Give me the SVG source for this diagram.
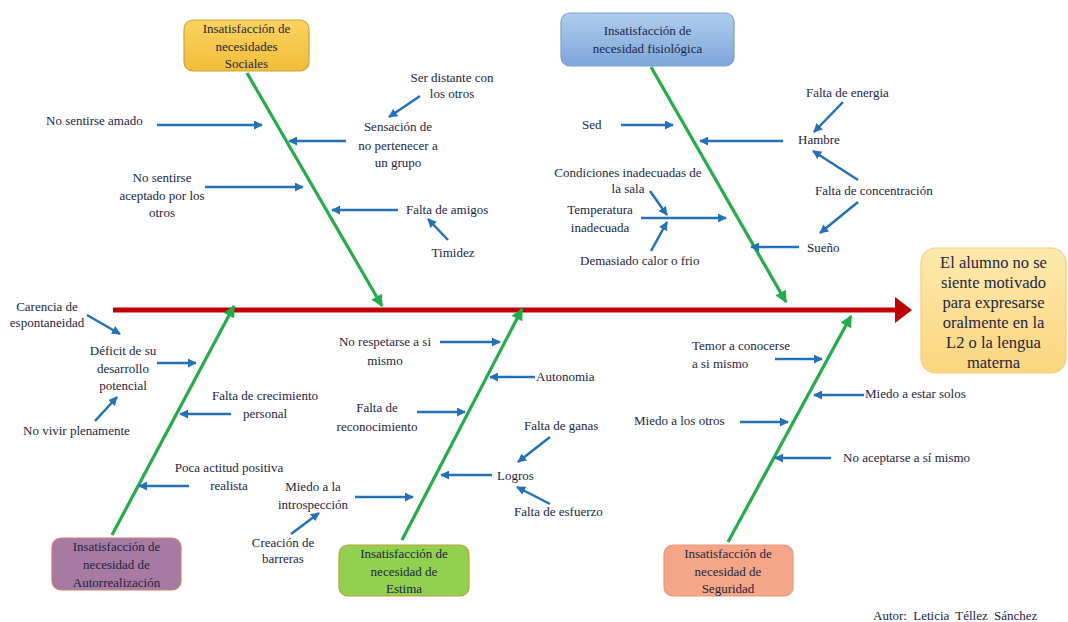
<svg xmlns="http://www.w3.org/2000/svg" width="1068" height="622" viewBox="0 0 1068 622">
<style>
text{font-family:"Liberation Serif","Times New Roman",serif;fill:#1c2541;font-size:13px}
.m{text-anchor:middle}
.big{font-size:16.5px}
.blue{stroke:#2471b8;stroke-width:2.5;fill:none;marker-end:url(#ab)}
.green{stroke:#22ac4c;stroke-width:3.2;fill:none;marker-end:url(#ag)}
</style>
<defs>
<marker id="ab" viewBox="0 0 10 10" refX="9" refY="5" markerWidth="9" markerHeight="9" markerUnits="userSpaceOnUse" orient="auto"><path d="M0,0 L10,5 L0,10 z" fill="#2471b8"/></marker>
<marker id="ag" viewBox="0 0 10 10" refX="9" refY="5" markerWidth="14" markerHeight="12" markerUnits="userSpaceOnUse" orient="auto"><path d="M0,0 L10,5 L0,10 z" fill="#22ac4c"/></marker>
<linearGradient id="gGold" x1="0" y1="0" x2="0" y2="1"><stop offset="0" stop-color="#fad35e"/><stop offset="1" stop-color="#f1bd3a"/></linearGradient>
<linearGradient id="gBlue" x1="0" y1="0" x2="0" y2="1"><stop offset="0" stop-color="#b0cdec"/><stop offset="1" stop-color="#7da6db"/></linearGradient>
<linearGradient id="gMain" x1="0" y1="0" x2="0" y2="1"><stop offset="0" stop-color="#fde9ac"/><stop offset="1" stop-color="#fbd57e"/></linearGradient>
</defs>
<rect width="1068" height="622" fill="#ffffff"/>

<g id="connectors">
<line x1="113" y1="310" x2="897" y2="310" stroke="#c00000" stroke-width="5"/>
<polygon points="895,297 912,310 895,323" fill="#c00000"/>
<line class="green" x1="247" y1="73" x2="382" y2="306"/>
<line class="green" x1="651" y1="67" x2="786" y2="302"/>
<line class="green" x1="112" y1="535" x2="234" y2="306"/>
<line class="green" x1="402" y1="540" x2="522" y2="309"/>
<line class="green" x1="728" y1="542" x2="851" y2="316"/>
<line class="blue" x1="157" y1="125" x2="262" y2="125"/>
<line class="blue" x1="346" y1="141" x2="289" y2="141"/>
<line class="blue" x1="420" y1="96" x2="389" y2="117"/>
<line class="blue" x1="205" y1="187" x2="303" y2="187"/>
<line class="blue" x1="398" y1="210" x2="332" y2="210"/>
<line class="blue" x1="448" y1="240" x2="428" y2="219"/>
<line class="blue" x1="621" y1="125" x2="673" y2="125"/>
<line class="blue" x1="783" y1="141" x2="700" y2="141"/>
<line class="blue" x1="843" y1="102" x2="814" y2="132"/>
<line class="blue" x1="858" y1="180" x2="813" y2="151"/>
<line class="blue" x1="858" y1="202" x2="820" y2="233"/>
<line class="blue" x1="799" y1="247" x2="751" y2="247"/>
<line class="blue" x1="650" y1="191" x2="667" y2="215"/>
<line class="blue" x1="641" y1="218" x2="726" y2="218"/>
<line class="blue" x1="651" y1="251" x2="667" y2="222"/>
<line class="blue" x1="87" y1="315" x2="120" y2="334"/>
<line class="blue" x1="157" y1="363" x2="196" y2="363"/>
<line class="blue" x1="95" y1="421" x2="117" y2="397"/>
<line class="blue" x1="231" y1="414" x2="180" y2="414"/>
<line class="blue" x1="189" y1="486" x2="139" y2="486"/>
<line class="blue" x1="440" y1="342" x2="500" y2="342"/>
<line class="blue" x1="535" y1="377" x2="490" y2="377"/>
<line class="blue" x1="417" y1="412" x2="465" y2="412"/>
<line class="blue" x1="550" y1="437" x2="518" y2="462"/>
<line class="blue" x1="492" y1="475" x2="441" y2="475"/>
<line class="blue" x1="550" y1="504" x2="517" y2="487"/>
<line class="blue" x1="355" y1="497" x2="413" y2="497"/>
<line class="blue" x1="291" y1="534" x2="319" y2="513"/>
<line class="blue" x1="775" y1="359" x2="822" y2="359"/>
<line class="blue" x1="864" y1="395" x2="814" y2="395"/>
<line class="blue" x1="740" y1="422" x2="788" y2="422"/>
<line class="blue" x1="831" y1="458" x2="775" y2="458"/>
</g>

<g id="n-sociales">
<rect x="184" y="20" width="125" height="51" rx="9" fill="url(#gGold)" stroke="#c9a53e" stroke-width="1.2"/>
<text class="m" x="246.5" y="33">Insatisfacción  de<tspan x="246.5" y="51">necesidades</tspan><tspan x="246.5" y="68">Sociales</tspan></text>
</g>
<g id="n-fisiologica">
<rect x="561" y="13" width="173" height="53" rx="9" fill="url(#gBlue)" stroke="#7a9fd0" stroke-width="1.2"/>
<text class="m" x="647.5" y="35">Insatisfacción  de<tspan x="647.5" y="53">necesidad  fisiológica</tspan></text>
</g>
<g id="n-efecto">
<rect x="921" y="248" width="145" height="125" rx="15" fill="url(#gMain)" stroke="#f3cd7a" stroke-width="1.2"/>
<text class="m big" x="993.5" y="268">El alumno  no se<tspan x="993.5" y="288">siente motivado</tspan><tspan x="993.5" y="308">para expresarse</tspan><tspan x="993.5" y="328">oralmente  en la</tspan><tspan x="993.5" y="348">L2 o la lengua</tspan><tspan x="993.5" y="368">materna</tspan></text>
</g>
<g id="n-autorrealizacion">
<rect x="52" y="538" width="129" height="52" rx="9" fill="#a67aa2" stroke="#c9826f" stroke-width="1.2"/>
<text class="m" x="116.5" y="551">Insatisfacción  de<tspan x="116.5" y="569">necesidad  de</tspan><tspan x="116.5" y="587">Autorrealización</tspan></text>
</g>
<g id="n-estima">
<rect x="339" y="545" width="130" height="51" rx="9" fill="#92d050" stroke="#c39b3a" stroke-width="1.2"/>
<text class="m" x="404" y="558">Insatisfacción  de<tspan x="404" y="576">necesidad  de</tspan><tspan x="404" y="593">Estima</tspan></text>
</g>
<g id="n-seguridad">
<rect x="664" y="545" width="129" height="51" rx="9" fill="#f4a687" stroke="#e8957c" stroke-width="1.2"/>
<text class="m" x="728" y="558">Insatisfacción  de<tspan x="728" y="576">necesidad  de</tspan><tspan x="728" y="593">Seguridad</tspan></text>
</g>

<g id="n-no-amado"><text x="46" y="125">No sentirse  amado</text></g>
<g id="n-sensacion"><text class="m" x="398" y="131">Sensación  de<tspan x="398" y="150">no pertenecer  a</tspan><tspan x="398" y="167">un  grupo</tspan></text></g>
<g id="n-distante"><text class="m" x="452" y="82">Ser distante con<tspan x="452" y="98">los  otros</tspan></text></g>
<g id="n-aceptado"><text class="m" x="162" y="182">No sentirse<tspan x="162" y="200">aceptado por los</tspan><tspan x="162" y="217">otros</tspan></text></g>
<g id="n-amigos"><text x="406" y="214">Falta  de amigos</text></g>
<g id="n-timidez"><text class="m" x="453" y="257">Timidez</text></g>

<g id="n-sed"><text x="582" y="129">Sed</text></g>
<g id="n-hambre"><text x="798" y="144">Hambre</text></g>
<g id="n-energia"><text x="806" y="97">Falta de energia</text></g>
<g id="n-concentracion"><text x="815" y="195">Falta de concentración</text></g>
<g id="n-sueno"><text x="807" y="252">Sueño</text></g>
<g id="n-condiciones"><text class="m" x="628" y="177">Condiciones  inadecuadas de<tspan x="628" y="193">la sala</tspan></text></g>
<g id="n-temperatura"><text class="m" x="600" y="214">Temperatura<tspan x="600" y="232">inadecuada</tspan></text></g>
<g id="n-calor"><text x="580" y="265">Demasiado calor  o  frio</text></g>

<g id="n-carencia"><text class="m" x="47" y="311">Carencia de<tspan x="47" y="327">espontaneidad</tspan></text></g>
<g id="n-deficit"><text class="m" x="123" y="355">Déficit  de su<tspan x="123" y="373">desarrollo</tspan><tspan x="123" y="390">potencial</tspan></text></g>
<g id="n-vivir"><text x="23" y="435">No vivir  plenamente</text></g>
<g id="n-crecimiento"><text class="m" x="265" y="400">Falta  de crecimiento<tspan x="265" y="418">personal</tspan></text></g>
<g id="n-actitud"><text class="m" x="229" y="472">Poca actitud  positiva<tspan x="229" y="490">realista</tspan></text></g>

<g id="n-respetarse"><text class="m" x="385" y="346">No respetarse  a si<tspan x="385" y="365">mismo</tspan></text></g>
<g id="n-autonomia"><text x="536" y="381">Autonomia</text></g>
<g id="n-reconocimiento"><text class="m" x="377" y="412">Falta  de<tspan x="377" y="431">reconocimiento</tspan></text></g>
<g id="n-ganas"><text x="524" y="430">Falta de ganas</text></g>
<g id="n-logros"><text x="497" y="480">Logros</text></g>
<g id="n-esfuerzo"><text x="514" y="516">Falta de esfuerzo</text></g>
<g id="n-introspeccion"><text class="m" x="313" y="491">Miedo a la<tspan x="313" y="509">introspección</tspan></text></g>
<g id="n-barreras"><text class="m" x="283" y="547">Creación de<tspan x="283" y="563">barreras</tspan></text></g>

<g id="n-temor"><text x="692" y="350">Temor  a conocerse<tspan x="692" y="368">a si mismo</tspan></text></g>
<g id="n-solos"><text x="865" y="398">Miedo  a estar  solos</text></g>
<g id="n-otros"><text x="634" y="425">Miedo  a los  otros</text></g>
<g id="n-aceptarse"><text x="843" y="462">No aceptarse  a sí mismo</text></g>

<g id="autor"><text x="873" y="620" font-size="12.5" style="word-spacing:3px">Autor:  Leticia  Téllez  Sánchez</text></g>
</svg>
